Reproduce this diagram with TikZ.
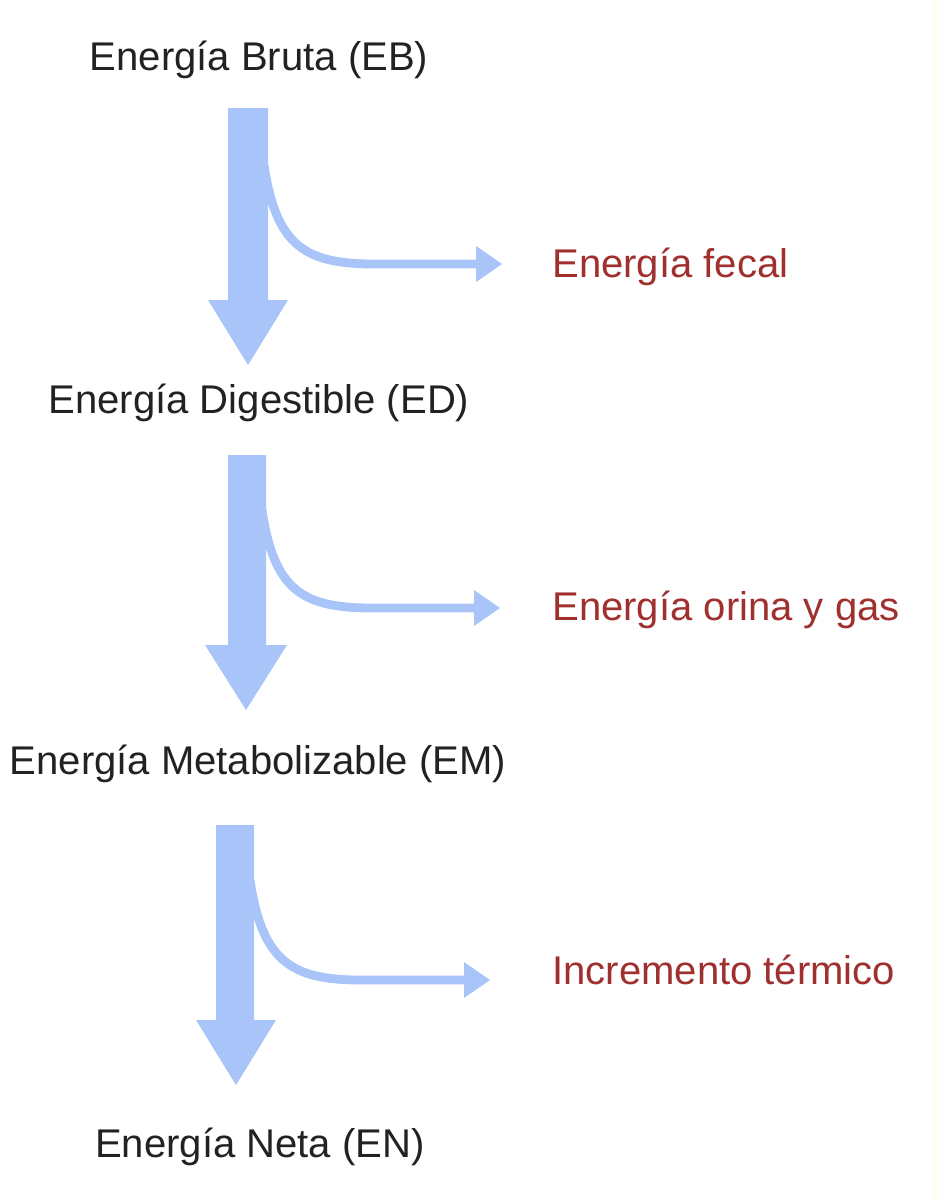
\documentclass[tikz,border=0pt]{standalone}
\usepackage{fontspec}
\setmainfont{Liberation Sans}
\definecolor{arrowblue}{HTML}{A8C4F8}
\definecolor{lossred}{HTML}{A0302E}
\definecolor{txt}{HTML}{222222}
\begin{document}
\begin{tikzpicture}[x=0.02cm,y=-0.02cm,
  lvl/.style={font=\fontsize{22.8}{26}\selectfont, text=txt, inner sep=0},
  loss/.style={font=\fontsize{22.8}{26}\selectfont, text=lossred, inner sep=0, anchor=west},
  branch/.style={draw=arrowblue, line width=5pt}]
\useasboundingbox (0,0) rectangle (938,1200);
\fill[white] (0,0) rectangle (938,1200);
\fill[yellow!4!white] (932,0) rectangle (938,1200);
\node[lvl] (eb) at (259,60) {Energía Bruta (EB)};
\node[lvl] (ed) at (259,403) {Energía Digestible (ED)};
\node[lvl] (em) at (258,764) {Energía Metabolizable (EM)};
\node[lvl] (en) at (260,1147) {Energía Neta (EN)};
\node[loss] (l1) at (552,267) {Energía fecal};
\node[loss] (l2) at (552,610) {Energía orina y gas};
\node[loss] (l3) at (552,970) {Incremento térmico};
\newcommand{\bigarr}[7]{\fill[arrowblue] (#1,#3) -- (#2,#3) -- (#2,#4) -- (#7,#4) -- ({(#6+#7)/2},#5) -- (#6,#4) -- (#1,#4) -- cycle;}
\newcommand{\brarr}[4]{%
  \draw[branch] (#1,#2) .. controls (#1+12,{#2+80}) and (#1+40,#3) .. (#1+110,#3) -- (#4-20,#3);
  \fill[arrowblue] (#4-26,#3-18) -- (#4,#3) -- (#4-26,#3+18) -- cycle;}
\bigarr{228}{268}{108}{300}{365}{208}{288}
\brarr{264}{165}{264}{502}
\bigarr{228}{266}{455}{645}{710}{205}{287}
\brarr{262}{510}{608}{500}
\bigarr{216}{254}{825}{1020}{1085}{196}{276}
\brarr{250}{880}{980}{490}
\end{tikzpicture}
\end{document}
